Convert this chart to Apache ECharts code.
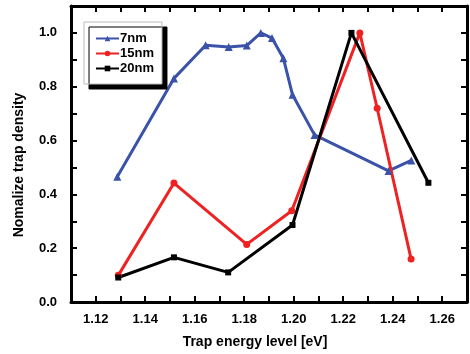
<!DOCTYPE html>
<html><head><meta charset="utf-8">
<script src="https://cdn.jsdelivr.net/npm/echarts@6/dist/echarts.min.js"></script>
<style>html,body{margin:0;padding:0;background:#fff}#c{width:470px;height:354px}</style>
</head><body><div id="c"></div>
<script>
const seriesNames = ['7nm', '15nm', '20nm'];
const x7 = [1.1287, 1.1516, 1.1644, 1.1737, 1.1810, 1.1867, 1.1912, 1.1958, 1.1995, 1.2084, 1.2383, 1.2475];
const y7 = [0.465, 0.831, 0.954, 0.948, 0.953, 1.0, 0.981, 0.906, 0.770, 0.621, 0.487, 0.526];
const x15 = [1.1291, 1.1516, 1.1810, 1.1992, 1.2267, 1.2337, 1.2474];
const y15 = [0.099, 0.442, 0.214, 0.339, 1.0, 0.720, 0.160];
const x20 = [1.1291, 1.1516, 1.1735, 1.1995, 1.2233, 1.2544];
const y20 = [0.091, 0.166, 0.110, 0.286, 1.0, 0.443];
const xTicks = ['1.12', '1.14', '1.16', '1.18', '1.20', '1.22', '1.24', '1.26'];
const yTicks = ['0.0', '0.2', '0.4', '0.6', '0.8', '1.0'];

const font = "'Liberation Sans', Arial, sans-serif";
const zip = (xs, ys) => xs.map((v, i) => [v, ys[i]]);
const colors = ['#3a52a8', '#ee2222', '#000000'];
const symbols = ['triangle', 'circle', 'rect'];
const sizes = [8, 7, 6];
const datas = [zip(x7, y7), zip(x15, y15), zip(x20, y20)];

const chart = echarts.init(document.getElementById('c'), null, {renderer: 'canvas'});
const axisCommon = {
  axisLine: {onZero: false, lineStyle: {color: '#000', width: 3}},
  axisTick: {inside: true, length: 6, lineStyle: {color: '#000', width: 2}},
  splitLine: {show: false}
};
chart.setOption({
  animation: false,
  backgroundColor: '#fff',
  grid: {left: 71, top: 6, width: 403, height: 298, containLabel: false},
  legend: {
    orient: 'vertical', left: 84, top: 22, z: 10,
    data: seriesNames,
    backgroundColor: '#fff', borderColor: '#bbb', borderWidth: 1,
    shadowColor: '#000', shadowOffsetX: 5, shadowOffsetY: 5, shadowBlur: 0.01,
    padding: [10, 8, 9, 11],
    itemWidth: 23, itemHeight: 7, itemGap: 2,
    textStyle: {fontFamily: font, fontWeight: 'bold', fontSize: 13, color: '#000', padding: [0, 0, 0, -4]}
  },
  xAxis: [
    Object.assign({}, axisCommon, {
      type: 'value', min: 1.11, max: 1.27, interval: 0.01, position: 'bottom',
      name: 'Trap energy level [eV]', nameLocation: 'middle', nameGap: 33,
      nameTextStyle: {fontFamily: font, fontWeight: 'bold', fontSize: 14, color: '#000', padding: [0, 28, 0, 0]},
      axisLabel: {
        margin: 11, fontFamily: font, fontWeight: 'bold', fontSize: 13, color: '#000',
        formatter: v => { const s = v.toFixed(2); return xTicks.includes(s) ? s : ''; }
      }
    }),
    Object.assign({}, axisCommon, {
      type: 'value', min: 1.11, max: 1.27, interval: 0.01, position: 'top',
      axisLabel: {show: false}
    })
  ],
  yAxis: [
    Object.assign({}, axisCommon, {
      type: 'value', min: 0, max: 1.1, interval: 0.1, position: 'left',
      name: 'Nomalize trap density', nameLocation: 'middle', nameGap: 45,
      nameTextStyle: {fontFamily: font, fontWeight: 'bold', fontSize: 14, color: '#000', padding: [0, 22, 0, 0]},
      axisLabel: {
        margin: 14, fontFamily: font, fontWeight: 'bold', fontSize: 13, color: '#000',
        formatter: v => { const s = v.toFixed(1); return yTicks.includes(s) ? s : ''; }
      }
    }),
    Object.assign({}, axisCommon, {
      type: 'value', min: 0, max: 1.1, interval: 0.1, position: 'right',
      axisLabel: {show: false}
    })
  ],
  series: seriesNames.map((n, i) => ({
    name: n, type: 'line', xAxisIndex: 0, yAxisIndex: 0,
    data: datas[i],
    symbol: symbols[i], symbolSize: sizes[i], showAllSymbol: true,
    lineStyle: {color: colors[i], width: 3},
    itemStyle: {color: colors[i]},
    z: 2
  }))
});
</script></body></html>
